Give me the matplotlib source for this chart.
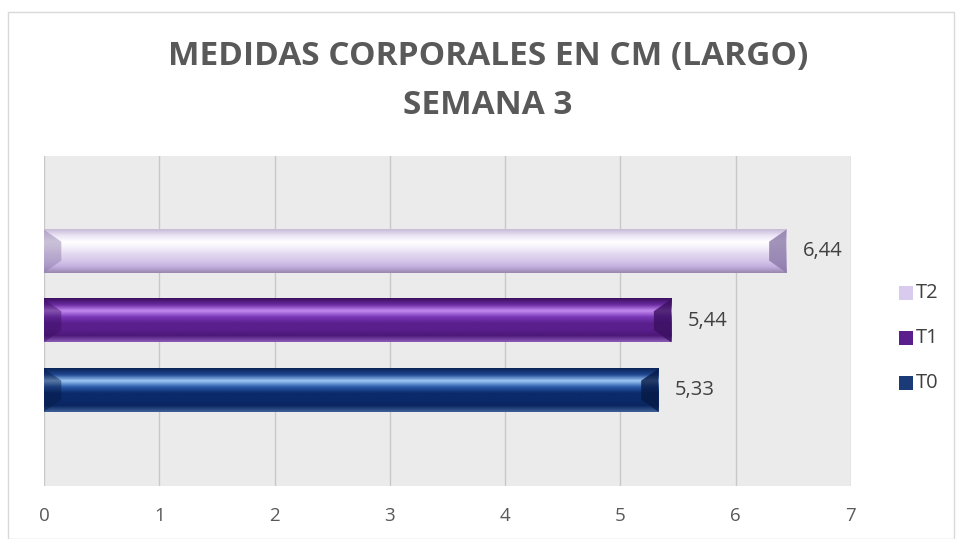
import numpy as np
import matplotlib
matplotlib.use("Agg")
import matplotlib.pyplot as plt
from matplotlib.colors import to_rgb
from matplotlib.patches import Polygon, Rectangle

categories = ["T0", "T1", "T2"]
values = [5.33, 5.44, 6.44]
labels = ["5,33", "5,44", "6,44"]
xticks = [0, 1, 2, 3, 4, 5, 6, 7]

# colour profiles (top -> bottom) per series
profiles = {
    "T0": ["#0b2458", "#1f4690", "#9cc8f5", "#2b5aa8", "#0a2a6a", "#0a2a6a", "#0a2660", "#3d5f95"],
    "T1": ["#3d1060", "#6a2aa0", "#c48af0", "#7a38b8", "#5a1f8c", "#5a1f8c", "#4c1878", "#8a5ab5"],
    "T2": ["#c8bcd8", "#ebe4f5", "#ffffff", "#f4effa", "#e2d8f0", "#d6c8ea", "#c4b0e0", "#9a88b0"],
}
bevel_colors = {"T0": "#061a45", "T1": "#3a0f60", "T2": "#8a78a8"}
legend_colors = {"T0": "#1a3a78", "T1": "#5a1f8c", "T2": "#d8cbee"}

plt.rcParams['font.family'] = ['Open Sans', 'DejaVu Sans']

fig = plt.figure(figsize=(9.56, 5.39), dpi=100)
fig.patches.append(Rectangle((0.008, 0.0), 0.99, 0.978, transform=fig.transFigure,
                             fill=False, edgecolor="#d9d9d9", linewidth=1))
ax = fig.add_axes([44/956, 1-486/539, (851-44)/956, (486-156)/539])
ax.set_facecolor("#ebebeb")
ax.set_xlim(0, 7)
ax.set_ylim(-1.38, 3.37)
h = 0.62

def profile_img(cols, n=60):
    rgb = np.array([to_rgb(c) for c in cols])
    t = np.linspace(0, 1, len(cols))
    tt = np.linspace(0, 1, n)
    img = np.stack([np.interp(tt, t, rgb[:, k]) for k in range(3)], axis=1)
    return img[:, None, :]

for i, (cat, v) in enumerate(zip(categories, values)):
    y0, y1 = i - h/2, i + h/2
    img = profile_img(profiles[cat])
    ax.imshow(img, extent=[0, v, y0, y1], aspect="auto", origin="upper", zorder=2,
              interpolation="bilinear")
    bw = 0.15
    dark = bevel_colors[cat]
    # left bevel
    ax.add_patch(Polygon([[0, y0], [bw, i - h/2 + h*0.28], [bw, i + h/2 - h*0.28], [0, y1]],
                         closed=True, facecolor=dark, edgecolor="none", alpha=0.45, zorder=3))
    # right bevel
    ax.add_patch(Polygon([[v, y0], [v - bw, i - h/2 + h*0.28], [v - bw, i + h/2 - h*0.28], [v, y1]],
                         closed=True, facecolor=dark, edgecolor="none", alpha=0.8, zorder=3))
    ax.text(v + 0.14, i, labels[i], va="center", ha="left", fontsize=14.5, color="#404040", zorder=4)

ax.set_xticks(xticks)
ax.set_xticklabels([str(t) for t in xticks], fontsize=13.5, color="#595959")
ax.set_yticks([])
ax.grid(axis="x", color="#c8c8c8", linewidth=1)
ax.set_axisbelow(True)
for s in ax.spines.values():
    s.set_visible(False)
ax.tick_params(axis="x", length=0, pad=15)

fig.text(488/956, 1-57/539, "MEDIDAS CORPORALES EN CM (LARGO)", ha="center", va="center",
         fontsize=24, fontweight="bold", color="#595959")
fig.text(488/956, 1-105/539, "SEMANA 3", ha="center", va="center",
         fontsize=24, fontweight="bold", color="#595959")

leg_y = {"T2": 293, "T1": 338, "T0": 383}
for cat in ["T2", "T1", "T0"]:
    yy = 1 - leg_y[cat]/539
    fig.patches.append(Rectangle((899/956, yy - 7/539), 14/956, 14/539, transform=fig.transFigure,
                                 facecolor=legend_colors[cat], edgecolor="none"))
    fig.text(916/956, yy, cat, ha="left", va="center", fontsize=14.5, color="#404040")

fig.savefig("out.png", dpi=100)
